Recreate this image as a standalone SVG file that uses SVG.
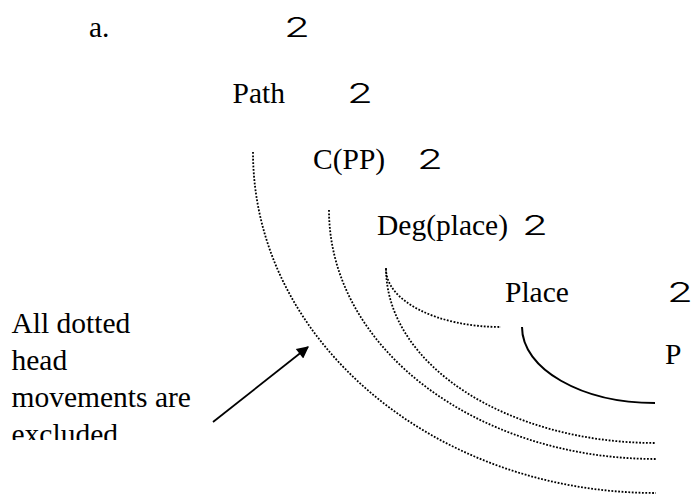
<svg xmlns="http://www.w3.org/2000/svg" width="697" height="494" viewBox="0 0 697 494">
  <style>
    .lbl { font-family: "Liberation Serif", "Times New Roman", serif; font-size: 29.5px; fill: #000; }
    .two { font-family: Inter, "DejaVu Sans", sans-serif; font-weight: 300; font-size: 27px; fill: #000; }
    .dot { fill: none; stroke: #000; stroke-width: 1.8; stroke-dasharray: 1.8 1.6; }
    .solid { fill: none; stroke: #000; stroke-width: 2; }
  </style>
  <defs>
    <marker id="arrowhead" viewBox="0 0 10 10" refX="9" refY="5" markerWidth="16" markerHeight="12" markerUnits="userSpaceOnUse" orient="auto">
      <path d="M0,0 L10,5 L0,10 z" fill="#000"/>
    </marker>
    <clipPath id="noteClip">
      <rect x="0" y="300" width="240" height="140"/>
    </clipPath>
  </defs>
  <rect width="697" height="494" fill="#fff"/>

  <!-- labelled nodes -->
  <g id="node-a">
    <text class="lbl" x="89" y="36.5">a.</text>
    <text class="two" x="284" y="36.5" textLength="26" lengthAdjust="spacingAndGlyphs">2</text>
  </g>
  <g id="node-path">
    <text class="lbl" x="232.5" y="102.7">Path</text>
    <text class="two" x="347" y="102.7" textLength="26" lengthAdjust="spacingAndGlyphs">2</text>
  </g>
  <g id="node-cpp">
    <text class="lbl" x="313" y="169">C(PP)</text>
    <text class="two" x="417" y="169" textLength="26" lengthAdjust="spacingAndGlyphs">2</text>
  </g>
  <g id="node-deg">
    <text class="lbl" x="377" y="235">Deg(place)</text>
    <text class="two" x="522" y="235" textLength="26" lengthAdjust="spacingAndGlyphs">2</text>
  </g>
  <g id="node-place">
    <text class="lbl" x="505" y="301.5">Place</text>
    <text class="two" x="667" y="301.5" textLength="26" lengthAdjust="spacingAndGlyphs">2</text>
  </g>
  <g id="node-p">
    <text class="lbl" x="665" y="364">P</text>
  </g>
  <g id="note" clip-path="url(#noteClip)">
    <text class="lbl" x="11.5" y="332.7">All dotted</text>
    <text class="lbl" x="11.5" y="370">head</text>
    <text class="lbl" x="11.5" y="406.7">movements are</text>
    <text class="lbl" x="11.5" y="443.7">excluded</text>
  </g>

  <!-- connectors -->
  <g id="connectors">
    <path class="dot" d="M253,152 C253,340 433.5,493 656,493"/>
    <path class="dot" d="M329,210 C329,347.4 475.5,459 656,459"/>
    <path class="dot" d="M386,268 C386,364.6 507,443 656,443"/>
    <path class="dot" d="M386,269 C386,301 437.5,327 501,327"/>
    <path class="solid" d="M522,327 C522,369 581.6,403 655,403"/>
    <line x1="213" y1="422" x2="308" y2="347" stroke="#000" stroke-width="1.8" marker-end="url(#arrowhead)"/>
  </g>
</svg>
